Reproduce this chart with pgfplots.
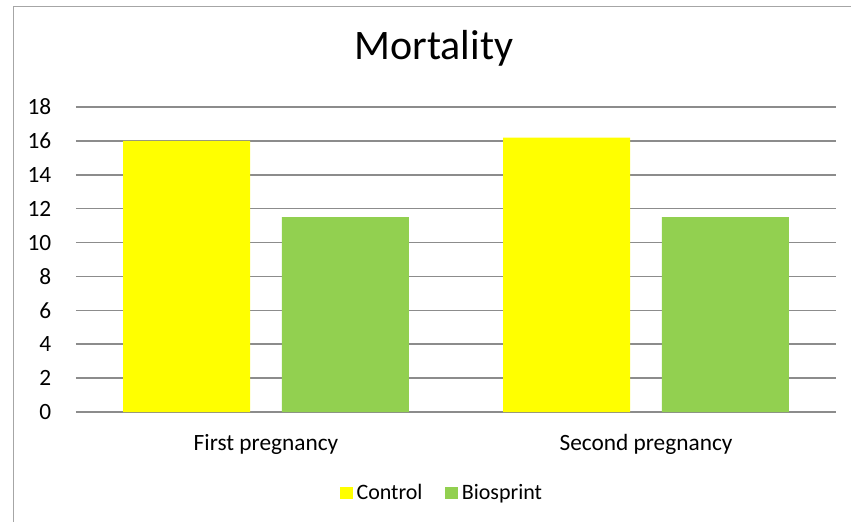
\documentclass[border=0pt]{standalone}
\usepackage{pgfplots}
\pgfplotsset{compat=1.18}
\usepackage{fontspec}
\setmainfont{Carlito}
\definecolor{ctrl}{HTML}{FFFF00}
\definecolor{bio}{HTML}{92D050}
\definecolor{gridc}{HTML}{8C8C8C}
\definecolor{framec}{HTML}{A6A6A6}
\begin{document}
\begin{tikzpicture}
\useasboundingbox (0pt,0pt) rectangle (638.25pt,391.5pt);
\draw[framec, line width=0.75pt] (9.75pt,386.25pt) rectangle (660pt,-20pt);
\begin{axis}[
  at={(57pt,82.5pt)}, anchor=south west,
  scale only axis, width=570pt, height=228.75pt,
  xmin=-0.5, xmax=1.5, ymin=0, ymax=18,
  ytick={0,2,...,18},
  xtick={0,1}, xticklabels={First pregnancy, Second pregnancy},
  axis line style={draw=none},
  major tick length=0pt,
  ymajorgrids, grid style={gridc, line width=1.1pt},
  tick label style={font=\fontsize{17.5}{20}\selectfont, /pgf/number format/assume math mode=true},
  yticklabel style={xshift=-15pt},
  xticklabel style={yshift=-13pt},
  title={Mortality},
  title style={at={(0.471,1.131)}, anchor=base, font=\fontsize{31.5}{36}\selectfont},
  legend style={at={(0.482,-0.266)}, anchor=center, draw=none, legend columns=2,
    font=\fontsize{16.5}{19}\selectfont, /tikz/every even column/.append style={column sep=15pt},
    /tikz/every odd column/.append style={column sep=1pt}},
  legend image code/.code={\fill[#1] (0pt,-4.6pt) rectangle (9.5pt,4.6pt);},
  clip=false,
]
\addplot[ybar, bar width=0.334, bar shift=-0.209, fill=ctrl, draw=none] coordinates {(0,16) (1,16.2)};
\addlegendentry{Control}
\addplot[ybar, bar width=0.334, bar shift=0.209, fill=bio, draw=none] coordinates {(0,11.5) (1,11.5)};
\addlegendentry{Biosprint}
\end{axis}
\end{tikzpicture}
\end{document}
